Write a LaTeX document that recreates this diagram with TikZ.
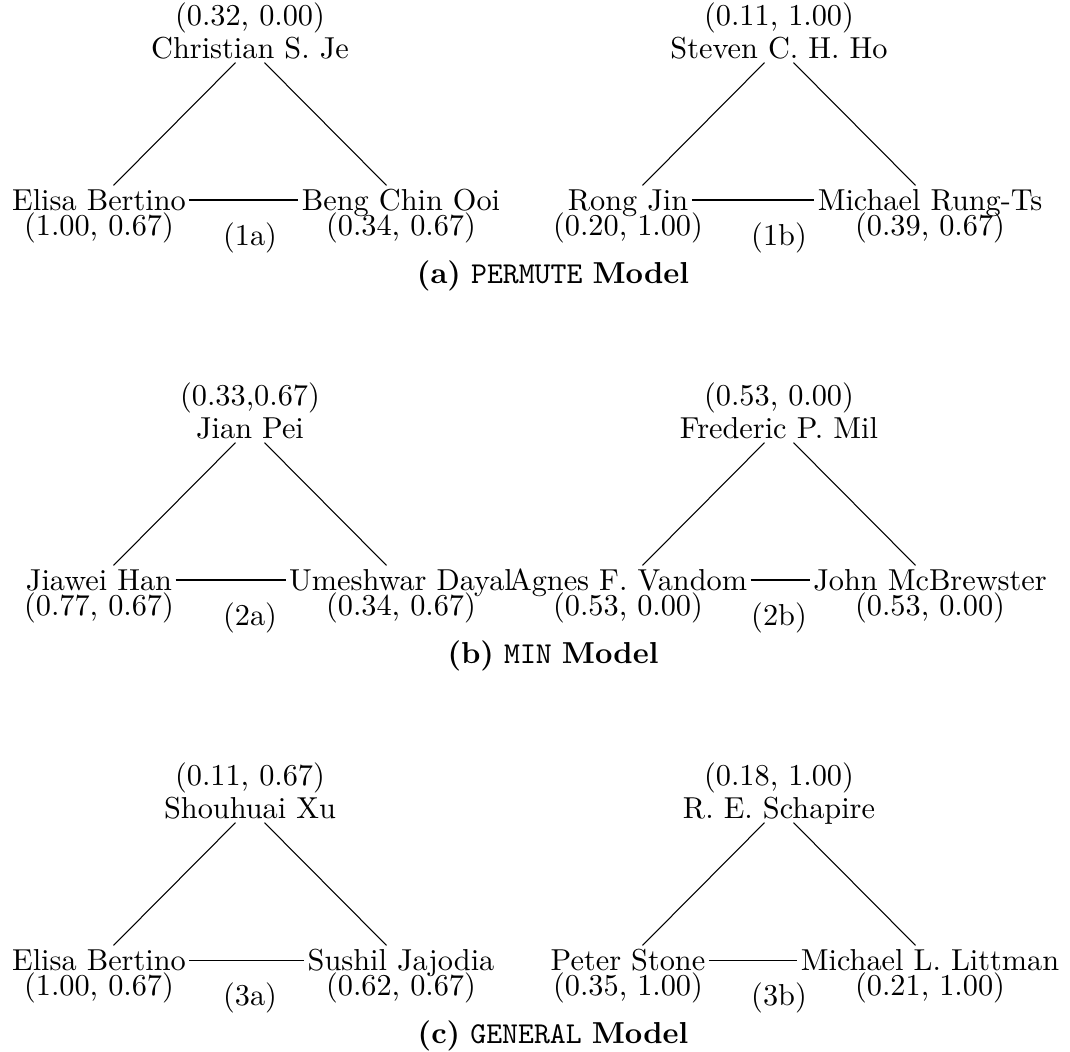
\documentclass[tikz,border=0pt]{standalone}
\begin{document}
\begin{tikzpicture}[x=0.33pt,y=-0.33pt,
  auth/.style={inner xsep=1pt,inner ysep=1.15pt,text height=6.94pt,text depth=0pt},
  lab/.style={anchor=base,inner sep=0pt},
  subl/.style={anchor=base,inner sep=0pt},
  capt/.style={anchor=base,inner sep=0pt},
  conn/.style={draw,line width=0.35pt}]
\useasboundingbox (0,0) rectangle (1070,1051);
% #1 tag, #2 x, #3 y (top centre), #4 top coords, #5 top name, #6 left name, #7 left coords, #8 right name, #9 right coords
\newcommand\tripanel[9]{%
  \node[auth] (t#1) at (#2,#3) {#5};
  \node[lab] (tl#1) at (#2,#3-22.5) {#4};
  \node[auth] (l#1) at (#2-151,#3+152) {#6};
  \node[lab] (ll#1) at (#2-151,#3+187) {#7};
  \node[auth] (r#1) at (#2+151,#3+152) {#8};
  \node[lab] (rl#1) at (#2+151,#3+187) {#9};
  \node[subl] (s#1) at (#2,#3+197.7) {(#1)};
  \draw[conn] (t#1) -- (l#1);
  \draw[conn] (t#1) -- (r#1);
  \draw[conn] (l#1) -- (r#1);
}
\tripanel{1a}{250}{48}{(0.32, 0.00)}{Christian S. Je}{Elisa Bertino}{(1.00, 0.67)}{Beng Chin Ooi}{(0.34, 0.67)}
\tripanel{1b}{779}{48}{(0.11, 1.00)}{Steven C. H. Ho}{Rong Jin}{(0.20, 1.00)}{Michael Rung-Ts}{(0.39, 0.67)}
\node[capt] (capa) at (553,283) {\textbf{(a)} \texttt{PERMUTE} \textbf{Model}};
\tripanel{2a}{250}{428}{(0.33,0.67)}{Jian Pei}{Jiawei Han}{(0.77, 0.67)}{Umeshwar Dayal}{(0.34, 0.67)}
\tripanel{2b}{779}{428}{(0.53, 0.00)}{Frederic P. Mil}{Agnes F. Vandom}{(0.53, 0.00)}{John McBrewster}{(0.53, 0.00)}
\node[capt] (capb) at (553,663) {\textbf{(b)} \texttt{MIN} \textbf{Model}};
\tripanel{3a}{250}{808}{(0.11, 0.67)}{Shouhuai Xu}{Elisa Bertino}{(1.00, 0.67)}{Sushil Jajodia}{(0.62, 0.67)}
\tripanel{3b}{779}{808}{(0.18, 1.00)}{R. E. Schapire}{Peter Stone}{(0.35, 1.00)}{Michael L. Littman}{(0.21, 1.00)}
\node[capt] (capc) at (553,1043) {\textbf{(c)} \texttt{GENERAL} \textbf{Model}};
\end{tikzpicture}
\end{document}
